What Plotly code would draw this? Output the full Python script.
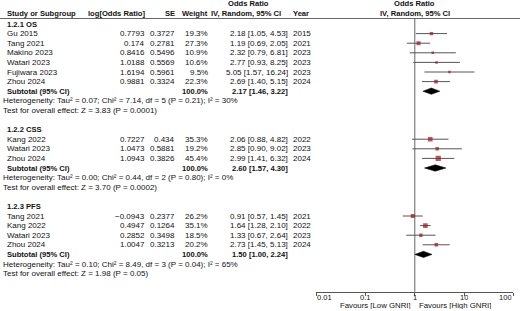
import math
import plotly.graph_objects as go

# ---------------- data ----------------
os_study = ["Gu 2015", "Tang 2021", "Makino 2023", "Watari 2023", "Fujiwara 2023", "Zhou 2024"]
os_logor = ["0.7793", "0.174", "0.8416", "1.0188", "1.6194", "0.9881"]
os_se = ["0.3727", "0.2781", "0.5496", "0.5569", "0.5961", "0.3324"]
os_weight = [19.3, 27.3, 10.9, 10.6, 9.5, 22.3]
os_or = [2.18, 1.19, 2.32, 2.77, 5.05, 2.69]
os_lo = [1.05, 0.69, 0.79, 0.93, 1.57, 1.40]
os_hi = [4.53, 2.05, 6.81, 8.25, 16.24, 5.15]
os_year = ["2015", "2021", "2023", "2023", "2023", "2024"]
os_total = [2.17, 1.46, 3.22]
os_het = "Heterogeneity: Tau² = 0.07; Chi² = 7.14, df = 5 (P = 0.21); I² = 30%"
os_test = "Test for overall effect: Z = 3.83 (P = 0.0001)"

css_study = ["Kang 2022", "Watari 2023", "Zhou 2024"]
css_logor = ["0.7227", "1.0473", "1.0943"]
css_se = ["0.434", "0.5881", "0.3826"]
css_weight = [35.3, 19.2, 45.4]
css_or = [2.06, 2.85, 2.99]
css_lo = [0.88, 0.90, 1.41]
css_hi = [4.82, 9.02, 6.32]
css_year = ["2022", "2023", "2024"]
css_total = [2.60, 1.57, 4.30]
css_het = "Heterogeneity: Tau² = 0.00; Chi² = 0.44, df = 2 (P = 0.80); I² = 0%"
css_test = "Test for overall effect: Z = 3.70 (P = 0.0002)"

pfs_study = ["Tang 2021", "Kang 2022", "Watari 2023", "Zhou 2024"]
pfs_logor = ["−0.0943", "0.4947", "0.2852", "1.0047"]
pfs_se = ["0.2377", "0.1264", "0.3498", "0.3213"]
pfs_weight = [26.2, 35.1, 18.5, 20.2]
pfs_or = [0.91, 1.64, 1.33, 2.73]
pfs_lo = [0.57, 1.28, 0.67, 1.45]
pfs_hi = [1.45, 2.10, 2.64, 5.13]
pfs_year = ["2021", "2022", "2023", "2024"]
pfs_total = [1.50, 1.00, 2.24]
pfs_het = "Heterogeneity: Tau² = 0.10; Chi² = 8.49, df = 3 (P = 0.04); I² = 65%"
pfs_test = "Test for overall effect: Z = 1.98 (P = 0.05)"

group_names = ["1.2.1 OS", "1.2.2 CSS", "1.2.3 PFS"]
tick_vals = [0.01, 0.1, 1, 10, 100]
tick_text = ["0.01", "0.1", "1", "10", "100"]
favours_left = "Favours [Low GNRI]"
favours_right = "Favours [High GNRI]"

groups = [
    (group_names[0], os_study, os_logor, os_se, os_weight, os_or, os_lo, os_hi, os_year, os_total, os_het, os_test),
    (group_names[1], css_study, css_logor, css_se, css_weight, css_or, css_lo, css_hi, css_year, css_total, css_het, css_test),
    (group_names[2], pfs_study, pfs_logor, pfs_se, pfs_weight, pfs_or, pfs_lo, pfs_hi, pfs_year, pfs_total, pfs_het, pfs_test),
]

# ---------------- layout constants ----------------
W, H = 520, 311
ROW0_PX, ROW_PX = 24.0, 9.6
AXIS_PX = 291.7
FONT = "Liberation Sans, Arial, sans-serif"
FS = 8.0
FSB = 7.6
TXT = "#111111"
SQ = "#A01414"
LINE = "#555555"

def px2row(py):
    return (py - ROW0_PX) / ROW_PX

def fx(px):
    return px / W

X_NAME, X_LOG, X_SE, X_W, X_OR, X_YEAR = 6, 146, 176, 208.5, 288.5, 292

annotations = []

def txt(x, row, s, anchor="left", bold=False, xref="paper", xshift=0, size=None, height=None):
    a = dict(
        x=fx(x) if xref == "paper" else math.log10(x), y=row, xref=xref, yref="y",
        text=("<b>%s</b>" % s) if bold else s, showarrow=False,
        xanchor=anchor, yanchor="middle", borderpad=0, xshift=xshift,
        font=dict(family=FONT, size=size or (FSB if bold else FS), color=TXT))
    if height:
        a["height"] = height
    annotations.append(a)

# headers
hdr1 = px2row(3.8)
hdr2 = px2row(13.2)
txt(248, hdr1, "Odds Ratio", "center", True)
txt(6, hdr2, "Study or Subgroup", "left", True)
txt(X_LOG, hdr2, "log[Odds Ratio]", "right", True)
txt(X_SE, hdr2, "SE", "right", True)
txt(X_W, hdr2, "Weight", "right", True)
txt(246, hdr2, "IV, Random, 95% CI", "center", True)
txt(X_YEAR, hdr2, "Year", "left", True)
txt(1, hdr1, "Odds Ratio", "center", True, xref="x")
txt(1, hdr2, "IV, Random, 95% CI", "center", True, xref="x")

fig = go.Figure()

# reference line at OR = 1
fig.add_trace(go.Scatter(x=[1, 1], y=[px2row(18.5), px2row(AXIS_PX)], mode="lines",
                         line=dict(color="#666666", width=1), hoverinfo="skip", showlegend=False))

row = 0
for (gname, study, logor, se, weight, orv, lo, hi, year, total, het, test) in groups:
    txt(X_NAME, row, gname, "left", True)
    rows = []
    for i in range(len(study)):
        r = row + 1 + i
        rows.append(r)
        txt(X_NAME, r, study[i])
        txt(X_LOG, r, logor[i], "right")
        txt(X_SE, r, se[i], "right")
        txt(X_W, r, "%.1f%%" % weight[i], "right")
        txt(X_OR, r, "%.2f [%.2f, %.2f]" % (orv[i], lo[i], hi[i]), "right")
        txt(X_YEAR, r, year[i])
    rs = row + 1 + len(study)
    txt(X_NAME, rs, "Subtotal (95% CI)", "left", True)
    txt(X_W, rs, "100.0%", "right", True)
    txt(X_OR, rs, "%.2f [%.2f, %.2f]" % tuple(total), "right", True)
    txt(2, rs + 1, het)
    txt(2, rs + 2, test)

    # CI lines
    xs, ys = [], []
    for i, r in enumerate(rows):
        xs += [lo[i], hi[i], None]
        ys += [r, r, None]
    fig.add_trace(go.Scatter(x=xs, y=ys, mode="lines", line=dict(color=LINE, width=1),
                             hoverinfo="skip", showlegend=False))
    # squares
    fig.add_trace(go.Scatter(x=orv, y=rows, mode="markers",
                             marker=dict(symbol="square", color=SQ,
                                         size=[0.78 * w ** 0.5 for w in weight],
                                         line=dict(width=0)),
                             showlegend=False))
    # diamond
    est, dl, dh = total
    hh = 0.33
    fig.add_trace(go.Scatter(x=[dl, est, dh, est, dl], y=[rs, rs - hh, rs, rs + hh, rs],
                             mode="lines", fill="toself", fillcolor="black",
                             line=dict(color="black", width=0.5), showlegend=False))
    row = rs + 4

# tick labels and favours
tick_row = px2row(297.8)
for i, (v, t) in enumerate(zip(tick_vals, tick_text)):
    anc = "left" if i == 0 else ("right" if i == len(tick_vals) - 1 else "center")
    txt(v, tick_row, t, anc, xref="x", size=7.6, height=7)
fav_row = px2row(305.3)
txt(1, fav_row, favours_left, "right", xref="x", xshift=-3, size=7.8, height=8)
txt(1, fav_row, favours_right, "left", xref="x", xshift=3, size=7.8, height=8)

shapes = [
    dict(type="line", xref="paper", yref="y", x0=0, x1=1, y0=px2row(18.5), y1=px2row(18.5),
         line=dict(color="#666666", width=1)),
]

fig.update_layout(
    width=W, height=H, margin=dict(l=0, r=0, t=0, b=0),
    paper_bgcolor="white", plot_bgcolor="white",
    annotations=annotations, shapes=shapes, showlegend=False,
    xaxis=dict(type="log", range=[-2, 2], domain=[fx(316.3), fx(513.3)],
               anchor="free", position=1 - AXIS_PX / H,
               showline=True, linecolor=LINE, linewidth=1,
               ticks="outside", ticklen=3, tickcolor=LINE, tickwidth=1,
               tickvals=tick_vals, showticklabels=False,
               showgrid=False, zeroline=False),
    yaxis=dict(range=[px2row(H), px2row(0)], domain=[0, 1], visible=False,
               showgrid=False, zeroline=False),
)

fig.write_html("out.html", config={"displayModeBar": False},
               post_script="document.body.style.margin='0px';")
